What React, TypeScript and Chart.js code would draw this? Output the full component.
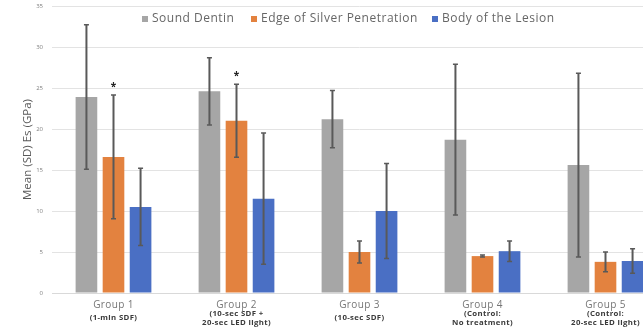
import React, { useEffect, useRef } from "react";
import { Chart, registerables } from "chart.js";

Chart.register(...registerables);

const groupNames = ["Group 1", "Group 2", "Group 3", "Group 4", "Group 5"];
const groupNotes = [
  ["(1-min SDF)"],
  ["(10-sec SDF +", "20-sec LED light)"],
  ["(10-sec SDF)"],
  ["(Control:", "No treatment)"],
  ["(Control:", "20-sec LED light)"],
];
const seriesNames = ["Sound Dentin", "Edge of Silver Penetration", "Body of the Lesion"];
const seriesColors = ["#A6A6A6", "#E3823F", "#4A6FC4"];
const soundDentin = [23.9, 24.6, 21.2, 18.7, 15.6];
const soundDentinSD = [8.8, 4.1, 3.5, 9.2, 11.2];
const edgeSilver = [16.6, 21.0, 5.0, 4.5, 3.8];
const edgeSilverSD = [7.55, 4.45, 1.35, 0.12, 1.2];
const bodyLesion = [10.5, 11.5, 10.0, 5.1, 3.9];
const bodyLesionSD = [4.7, 8.0, 5.8, 1.25, 1.5];
const significant = [false, true, false]; // which series carries markers
const markedGroups = [true, true, false, false, false];
const yTicks = [0, 5, 10, 15, 20, 25, 30, 35];

const FONT = "'Open Sans', 'DejaVu Sans', sans-serif";

export default function App() {
  const ref = useRef<HTMLCanvasElement | null>(null);
  useEffect(() => {
    const canvas = ref.current;
    if (!canvas) return;
    const sds = [soundDentinSD, edgeSilverSD, bodyLesionSD];

    const errorBars = {
      id: "errorBars",
      afterDatasetsDraw(chart: any) {
        const ctx = chart.ctx;
        const y = chart.scales.y;
        ctx.save();
        ctx.strokeStyle = "#595959";
        ctx.fillStyle = "#222";
        chart.data.datasets.forEach((ds: any, i: number) => {
          const meta = chart.getDatasetMeta(i);
          meta.data.forEach((bar: any, j: number) => {
            const v = ds.data[j];
            const sd = sds[i][j];
            const yHi = y.getPixelForValue(v + sd);
            const yLo = y.getPixelForValue(v - sd);
            ctx.lineWidth = 2;
            ctx.beginPath();
            ctx.moveTo(bar.x, yHi);
            ctx.lineTo(bar.x, yLo);
            ctx.stroke();
            ctx.lineWidth = 1.5;
            ctx.beginPath();
            ctx.moveTo(bar.x - 2.5, yHi);
            ctx.lineTo(bar.x + 2.5, yHi);
            ctx.moveTo(bar.x - 2.5, yLo);
            ctx.lineTo(bar.x + 2.5, yLo);
            ctx.stroke();
            if (significant[i] && markedGroups[j]) {
              ctx.font = `bold 10px ${FONT}`;
              ctx.textAlign = "center";
              ctx.textBaseline = "middle";
              ctx.fillText("*", bar.x, y.getPixelForValue(v + sd + 1.2) + 2);
            }
          });
        });
        ctx.restore();
      },
    };

    const labelsAndLegend = {
      id: "labelsAndLegend",
      afterDraw(chart: any) {
        const ctx = chart.ctx;
        const x = chart.scales.x;
        ctx.save();
        ctx.textAlign = "center";
        ctx.textBaseline = "middle";
        groupNames.forEach((name, i) => {
          const cx = x.getPixelForValue(i);
          ctx.fillStyle = "#757575";
          ctx.font = `10px ${FONT}`;
          (ctx as any).letterSpacing = "0.4px";
          ctx.fillText(name, cx, 305);
          const lines = groupNotes[i];
          const start = lines.length === 1 ? 317.5 : 314;
          ctx.fillStyle = "#3a3a3a";
          ctx.font = `bold 7.8px ${FONT}`;
          (ctx as any).letterSpacing = "0.35px";
          lines.forEach((ln, k) => ctx.fillText(ln, cx, start + k * 8.6));
        });
        // legend
        const xs = [142, 251, 432];
        ctx.textAlign = "left";
        ctx.font = `12px ${FONT}`;
        (ctx as any).letterSpacing = "0.5px";
        seriesNames.forEach((n, i) => {
          ctx.fillStyle = seriesColors[i];
          ctx.fillRect(xs[i], 16, 6, 6);
          ctx.fillStyle = "#666666";
          ctx.fillText(n, xs[i] + 10, 19);
        });
        ctx.restore();
      },
    };

    const chart = new Chart(canvas, {
      type: "bar",
      data: {
        labels: groupNames,
        datasets: [
          { label: seriesNames[0], data: soundDentin, backgroundColor: seriesColors[0] },
          { label: seriesNames[1], data: edgeSilver, backgroundColor: seriesColors[1] },
          { label: seriesNames[2], data: bodyLesion, backgroundColor: seriesColors[2] },
        ],
      },
      options: {
        responsive: false,
        animation: false,
        layout: { padding: { top: 6, bottom: 41, left: 0, right: 0 } },
        datasets: { bar: { categoryPercentage: 0.66, barPercentage: 0.8 } },
        plugins: { legend: { display: false }, tooltip: { enabled: false } },
        scales: {
          x: {
            grid: { display: false },
            ticks: { display: false },
            border: { display: true, color: "#d9d9d9" },
            afterFit: (s: any) => {
              s.height = 0;
              s.paddingLeft = 0;
              s.paddingRight = 0;
            },
          },
          y: {
            min: 0,
            max: 35,
            afterBuildTicks: (s: any) => {
              s.ticks = yTicks.map((v) => ({ value: v }));
            },
            grid: { color: "#e3e3e3", lineWidth: 1, drawTicks: false },
            border: { display: false },
            ticks: { color: "#7f7f7f", font: { size: 6, family: FONT }, padding: 9 },
            title: {
              display: true,
              text: "Mean (SD) Es (GPa)",
              color: "#595959",
              font: { size: 11.5, family: FONT },
              padding: { top: 21, bottom: 0 },
            },
            afterFit: (s: any) => {
              s.width = 52;
              s.paddingTop = 0;
              s.paddingBottom = 0;
            },
          },
        },
      },
      plugins: [errorBars, labelsAndLegend],
    } as any);
    return () => chart.destroy();
  }, []);

  return (
    <div
      style={{
        position: "fixed",
        left: 0,
        top: 0,
        width: 643,
        height: 334,
        overflow: "hidden",
        background: "#fff",
      }}
    >
      <canvas ref={ref} width={667} height={334} style={{ width: 667, height: 334, display: "block" }} />
    </div>
  );
}
